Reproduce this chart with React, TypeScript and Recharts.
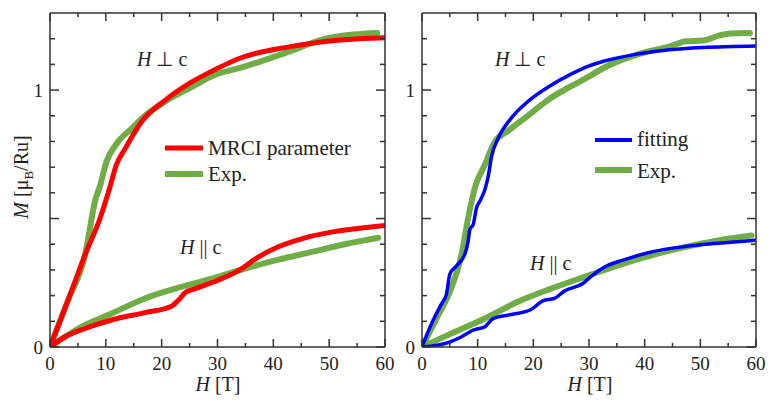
import { LineChart, Line, XAxis, YAxis } from 'recharts';

const FONT = '"Liberation Serif", "Times New Roman", serif';
const AXIS = '#333333';
const GREEN = '#70ad47';
const RED = '#ff0000';
const BLUE = '#0000ff';

const xTicks = [0, 5, 10, 15, 20, 25, 30, 35, 40, 45, 50, 55, 60];
const yTicks = [0, 0.1, 0.2, 0.3, 0.4, 0.5, 0.6, 0.7, 0.8, 0.9, 1.0, 1.1, 1.2];

// left panel, H perpendicular c
const lPerpExpH = [0, 3.2, 6.3, 8.1, 9, 10.1, 11.9, 14.6, 17, 20.6, 25.1, 29.6, 34, 43, 48.9, 54.3, 58.6];
const lPerpExpM = [0, 0.18, 0.36, 0.57, 0.63, 0.72, 0.79, 0.85, 0.9, 0.955, 1.009, 1.06, 1.086, 1.151, 1.197, 1.216, 1.222];
const lPerpCalcH = [0, 3.2, 6.3, 9, 10.7, 11.9, 13.4, 16.4, 20.6, 25.1, 29.6, 34, 43, 52, 60];
const lPerpCalcM = [0, 0.18, 0.36, 0.503, 0.62, 0.71, 0.77, 0.877, 0.96, 1.028, 1.08, 1.124, 1.169, 1.195, 1.204];
// left panel, H parallel c
const lParExpH = [0, 5.1, 11, 17, 23, 29, 34.9, 40.9, 46.9, 52.8, 58.8];
const lParExpM = [0, 0.072, 0.13, 0.189, 0.231, 0.266, 0.305, 0.34, 0.37, 0.4, 0.425];
const lParCalcH = [0, 2.7, 6.3, 11, 17, 21.8, 23, 24.2, 26, 30.1, 33.7, 37.3, 40.9, 45.7, 50.4, 55.8, 60];
const lParCalcM = [0, 0.04, 0.072, 0.105, 0.134, 0.159, 0.182, 0.211, 0.227, 0.26, 0.296, 0.35, 0.39, 0.425, 0.447, 0.463, 0.473];

// right panel, H perpendicular c
const rPerpExpH = [0, 2.7, 5.3, 7.1, 8.3, 9.5, 11.3, 13.1, 15.4, 19, 23.2, 26.8, 29.8, 32.6, 38.6, 44.5, 47.5, 50.5, 53.5, 55.3, 58.9];
const rPerpExpM = [0, 0.115, 0.232, 0.36, 0.503, 0.62, 0.71, 0.8, 0.84, 0.9, 0.97, 1.015, 1.05, 1.086, 1.138, 1.17, 1.19, 1.193, 1.213, 1.22, 1.222];
const rPerpFitH = [0, 1.7, 3.5, 4.4, 5, 6.2, 7.7, 8.3, 8.6, 9.2, 9.8, 10.4, 11.3, 11.9, 12.5, 13.7, 16, 19, 23.2, 26.6, 29.8, 32.6, 38.6, 44.5, 50.5, 60];
const rPerpFitM = [0, 0.09, 0.168, 0.206, 0.284, 0.316, 0.361, 0.413, 0.458, 0.477, 0.542, 0.568, 0.613, 0.665, 0.742, 0.813, 0.89, 0.955, 1.019, 1.06, 1.092, 1.112, 1.14, 1.157, 1.166, 1.172];
// right panel, H parallel c
const rParExpH = [0, 5.3, 11.3, 17.2, 23.2, 29.2, 35.2, 41.2, 47.2, 53.2, 59.2];
const rParExpM = [0, 0.053, 0.111, 0.176, 0.227, 0.273, 0.318, 0.357, 0.389, 0.415, 0.434];
const rParFitH = [0, 4.7, 7.1, 9.2, 11.3, 12.8, 15.4, 19.6, 21.7, 23.8, 25.6, 28.9, 30.4, 32.8, 36.4, 41.2, 47.2, 53.2, 60];
const rParFitM = [0, 0.017, 0.04, 0.066, 0.079, 0.111, 0.124, 0.146, 0.18, 0.189, 0.218, 0.247, 0.275, 0.311, 0.34, 0.37, 0.391, 0.404, 0.416];

type Pt = { h: number; m: number };
const toPoints = (h: number[], m: number[]): Pt[] => h.map((v, i) => ({ h: v, m: m[i] }));

type Series = { name: string; points: Pt[]; color: string; width: number };

const isMajorX = (v: number) => v % 10 === 0;
const isMajorY = (v: number) => Math.round(v * 10) % 5 === 0;

function BottomTick({ x, y, payload }: any) {
  const v = payload.value;
  const len = isMajorX(v) ? 8 : 4;
  return (
    <g>
      <line x1={x} y1={y} x2={x} y2={y - len} stroke={AXIS} strokeWidth={1.5} />
      {isMajorX(v) && (
        <text x={x} y={y + 23} textAnchor="middle" fontFamily={FONT} fontSize={19} fill="#222">
          {v}
        </text>
      )}
    </g>
  );
}

function TopTick({ x, y, payload }: any) {
  const len = isMajorX(payload.value) ? 8 : 4;
  return <line x1={x} y1={y} x2={x} y2={y + len} stroke={AXIS} strokeWidth={1.5} />;
}

function LeftTick({ x, y, payload }: any) {
  const v = payload.value;
  const len = isMajorY(v) ? 9 : 5;
  const label = Math.abs(v) < 1e-9 ? '0' : Math.abs(v - 1) < 1e-9 ? '1' : null;
  return (
    <g>
      <line x1={x} y1={y} x2={x + len} y2={y} stroke={AXIS} strokeWidth={1.5} />
      {label && (
        <text x={x - 7} y={y + 7} textAnchor="end" fontFamily={FONT} fontSize={19} fill="#222">
          {label}
        </text>
      )}
    </g>
  );
}

function RightTick({ x, y, payload }: any) {
  const len = isMajorY(payload.value) ? 9 : 5;
  return <line x1={x} y1={y} x2={x - len} y2={y} stroke={AXIS} strokeWidth={1.5} />;
}

// axes need a non-zero size to be drawn, so each takes 1px out of the margin
function Panel({ series, right }: { series: Series[]; right: number }) {
  return (
    <LineChart width={400} height={400} margin={{ top: 12, right: right - 1, bottom: 52, left: 49 }}>
      <XAxis
        xAxisId="b"
        type="number"
        dataKey="h"
        domain={[0, 60]}
        ticks={xTicks}
        allowDataOverflow
        height={1}
        tickSize={0}
        tickMargin={0}
        tickLine={false}
        stroke={AXIS}
        strokeWidth={1.5}
        tick={<BottomTick />}
        interval={0}
      />
      <XAxis
        xAxisId="t"
        orientation="top"
        type="number"
        dataKey="h"
        domain={[0, 60]}
        ticks={xTicks}
        allowDataOverflow
        height={1}
        tickSize={0}
        tickMargin={0}
        tickLine={false}
        stroke={AXIS}
        strokeWidth={1.5}
        tick={<TopTick />}
        interval={0}
      />
      <YAxis
        yAxisId="l"
        type="number"
        domain={[0, 1.3]}
        ticks={yTicks}
        allowDataOverflow
        width={1}
        tickSize={0}
        tickMargin={0}
        tickLine={false}
        stroke={AXIS}
        strokeWidth={1.5}
        tick={<LeftTick />}
        interval={0}
      />
      <YAxis
        yAxisId="r"
        orientation="right"
        type="number"
        domain={[0, 1.3]}
        ticks={yTicks}
        allowDataOverflow
        width={1}
        tickSize={0}
        tickMargin={0}
        tickLine={false}
        stroke={AXIS}
        strokeWidth={1.5}
        tick={<RightTick />}
        interval={0}
      />
      {series.map((s) => (
        <Line
          key={s.name}
          xAxisId="b"
          yAxisId="l"
          data={s.points}
          dataKey="m"
          type="monotone"
          stroke={s.color}
          strokeWidth={s.width}
          strokeLinecap="round"
          strokeLinejoin="round"
          dot={false}
          activeDot={false}
          isAnimationActive={false}
        />
      ))}
    </LineChart>
  );
}

const leftSeries: Series[] = [
  { name: 'perpExp', points: toPoints(lPerpExpH, lPerpExpM), color: GREEN, width: 6 },
  { name: 'parExp', points: toPoints(lParExpH, lParExpM), color: GREEN, width: 6 },
  { name: 'perpCalc', points: toPoints(lPerpCalcH, lPerpCalcM), color: RED, width: 5 },
  { name: 'parCalc', points: toPoints(lParCalcH, lParCalcM), color: RED, width: 5 },
];

const rightSeries: Series[] = [
  { name: 'perpExp', points: toPoints(rPerpExpH, rPerpExpM), color: GREEN, width: 6 },
  { name: 'parExp', points: toPoints(rParExpH, rParExpM), color: GREEN, width: 6 },
  { name: 'perpFit', points: toPoints(rPerpFitH, rPerpFitM), color: BLUE, width: 3.5 },
  { name: 'parFit', points: toPoints(rParFitH, rParFitM), color: BLUE, width: 3.5 },
];

function Overlay() {
  const t = { fontFamily: FONT, fill: '#222' };
  return (
    <svg width={773} height={400} style={{ position: 'absolute', left: 0, top: 0, pointerEvents: 'none' }}>
      {/* axis titles */}
      <text x={218} y={391} textAnchor="middle" fontSize={20} {...t}>
        <tspan fontStyle="italic">H</tspan> [T]
      </text>
      <text x={590} y={391} textAnchor="middle" fontSize={20} {...t}>
        <tspan fontStyle="italic">H</tspan> [T]
      </text>
      <text x={28} y={177} textAnchor="middle" fontSize={20} transform="rotate(-90 28 177)" {...t}>
        <tspan fontStyle="italic">M</tspan> [μ<tspan fontSize={13} dy={5}>B</tspan>
        <tspan dy={-5}>/Ru]</tspan>
      </text>
      {/* annotations */}
      <text x={137} y={66} fontSize={20} {...t}>
        <tspan fontStyle="italic">H</tspan> ⊥ c
      </text>
      <text x={180} y={254} fontSize={20} {...t}>
        <tspan fontStyle="italic">H</tspan> || c
      </text>
      <text x={495} y={66} fontSize={20} {...t}>
        <tspan fontStyle="italic">H</tspan> ⊥ c
      </text>
      <text x={530} y={270} fontSize={20} {...t}>
        <tspan fontStyle="italic">H</tspan> || c
      </text>
      {/* legends */}
      <line x1={165} y1={148} x2={203} y2={148} stroke={RED} strokeWidth={5} />
      <text x={208} y={155} fontSize={21} {...t}>MRCI parameter</text>
      <line x1={165} y1={174} x2={203} y2={174} stroke={GREEN} strokeWidth={6} />
      <text x={208} y={181} fontSize={21} {...t}>Exp.</text>
      <line x1={595} y1={140} x2={632} y2={140} stroke={BLUE} strokeWidth={4} />
      <text x={637} y={146} fontSize={21} {...t}>fitting</text>
      <line x1={595} y1={170} x2={632} y2={170} stroke={GREEN} strokeWidth={6} />
      <text x={637} y={178} fontSize={21} {...t}>Exp.</text>
    </svg>
  );
}

export default function App() {
  return (
    <div style={{ position: 'absolute', left: 0, top: 0, width: 773, height: 400, background: '#fff' }}>
      <div style={{ position: 'absolute', left: 0, top: 0 }}>
        <Panel series={leftSeries} right={15} />
      </div>
      <div style={{ position: 'absolute', left: 372, top: 0 }}>
        <Panel series={rightSeries} right={16} />
      </div>
      <Overlay />
    </div>
  );
}
